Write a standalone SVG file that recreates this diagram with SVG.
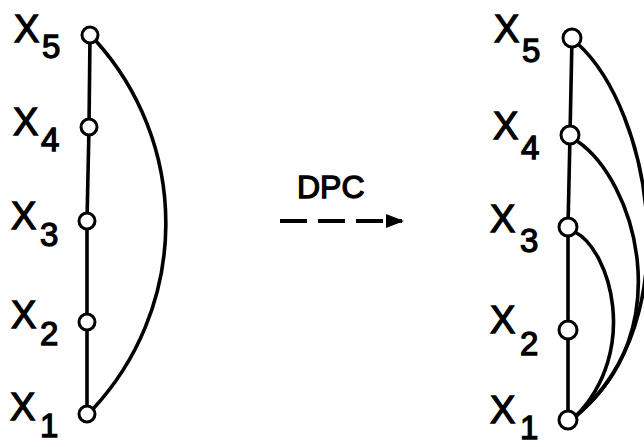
<svg xmlns="http://www.w3.org/2000/svg" width="644" height="447" viewBox="0 0 644 447">
<style>
.e{fill:none;stroke:#000;stroke-width:3.6;stroke-linecap:round}
.n{fill:#fff;stroke:#000;stroke-width:3}
.x{font-family:"Liberation Sans",Arial,sans-serif;font-size:38px;fill:#000;stroke:#000;stroke-width:1.3}
.s{font-family:"Liberation Sans",Arial,sans-serif;font-size:33px;fill:#000;stroke:#000;stroke-width:1.3}
</style>
<defs>
<marker id="ah" markerWidth="18" markerHeight="14" refX="16" refY="7" orient="auto" markerUnits="userSpaceOnUse">
<path d="M0,0 L18,7 L0,14 Z" fill="#000"/>
</marker>
</defs>
<g id="connectors">
<path class="e" d="M90,35 L89,127 L87,221 L87,322 L87,414"/>
<path class="e" d="M96,41 A273,273 0 0 1 93,409"/>
<path class="e" d="M572,38 L570,135 L568,227 L568,330 L568,420"/>
<path class="e" d="M578,44 C650,110 690,320 576,416"/>
<path class="e" d="M577,141 C635,180 680,330 576,416"/>
<path class="e" d="M575,232 C610,250 640,350 576,416"/>
<path d="M280,221 L402,221" fill="none" stroke="#000" stroke-width="4" stroke-dasharray="27,11" marker-end="url(#ah)"/>
</g>
<g id="label-DPC"><text x="297" y="198" class="x" style="font-size:32px">DPC</text></g>
<g id="L-x5"><circle class="n" cx="90" cy="35" r="8"/><text class="x" x="14" y="42">X</text><text class="s" x="42" y="58">5</text></g>
<g id="L-x4"><circle class="n" cx="89" cy="127" r="8"/><text class="x" x="13" y="135">X</text><text class="s" x="41" y="151">4</text></g>
<g id="L-x3"><circle class="n" cx="87" cy="221" r="8"/><text class="x" x="11" y="229">X</text><text class="s" x="40" y="246">3</text></g>
<g id="L-x2"><circle class="n" cx="87" cy="322" r="8"/><text class="x" x="11" y="328">X</text><text class="s" x="40" y="345">2</text></g>
<g id="L-x1"><circle class="n" cx="87" cy="414" r="8"/><text class="x" x="10" y="420">X</text><text class="s" x="40" y="437">1</text></g>
<g id="R-x5"><circle class="n" cx="572" cy="38" r="9"/><text class="x" x="494" y="42">X</text><text class="s" x="522" y="62">5</text></g>
<g id="R-x4"><circle class="n" cx="570" cy="135" r="9"/><text class="x" x="493" y="139">X</text><text class="s" x="521" y="159">4</text></g>
<g id="R-x3"><circle class="n" cx="568" cy="227" r="9"/><text class="x" x="490" y="232">X</text><text class="s" x="520" y="252">3</text></g>
<g id="R-x2"><circle class="n" cx="568" cy="330" r="9"/><text class="x" x="490" y="333">X</text><text class="s" x="520" y="355">2</text></g>
<g id="R-x1"><circle class="n" cx="568" cy="420" r="9"/><text class="x" x="490" y="423">X</text><text class="s" x="520" y="439">1</text></g>
</svg>
